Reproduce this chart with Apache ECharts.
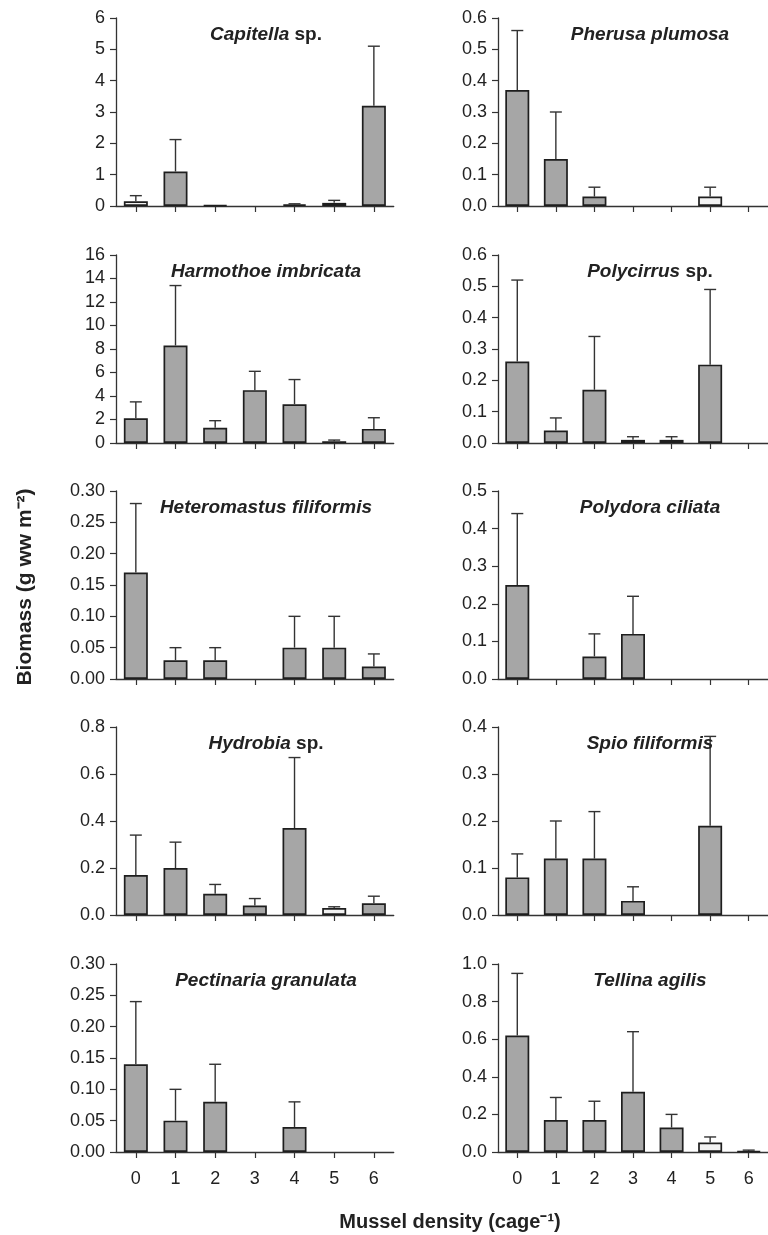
<!DOCTYPE html>
<html><head><meta charset="utf-8">
<script src="https://cdn.jsdelivr.net/npm/echarts@6/dist/echarts.min.js"></script>
<style>html,body{margin:0;padding:0;background:#fff}#c{width:768px;height:1235px}</style>
</head><body><div id="c"></div>
<script>
const categories = ['0','1','2','3','4','5','6'];

const capitellaMean = [0.15, 1.1, 0.03, 0, 0.05, 0.1, 3.2];
const capitellaSE   = [0.18, 1.02, 0, 0, 0.02, 0.08, 1.9];
const pherusaMean = [0.37, 0.15, 0.03, 0, 0, 0.03, 0];
const pherusaSE   = [0.19, 0.15, 0.03, 0, 0, 0.03, 0];
const harmothoeMean = [2.1, 8.3, 1.3, 4.5, 3.3, 0.15, 1.2];
const harmothoeSE   = [1.4, 5.1, 0.6, 1.6, 2.1, 0.1, 0.95];
const polycirrusMean = [0.26, 0.04, 0.17, 0.01, 0.01, 0.25, 0];
const polycirrusSE   = [0.26, 0.04, 0.17, 0.01, 0.01, 0.24, 0];
const heteromastusMean = [0.17, 0.03, 0.03, 0, 0.05, 0.05, 0.02];
const heteromastusSE   = [0.11, 0.02, 0.02, 0, 0.05, 0.05, 0.02];
const polydoraMean = [0.25, 0, 0.06, 0.12, 0, 0, 0];
const polydoraSE   = [0.19, 0, 0.06, 0.10, 0, 0, 0];
const hydrobiaMean = [0.17, 0.20, 0.09, 0.04, 0.37, 0.03, 0.05];
const hydrobiaSE   = [0.17, 0.11, 0.04, 0.03, 0.30, 0.005, 0.03];
const spioMean = [0.08, 0.12, 0.12, 0.03, 0, 0.19, 0];
const spioSE   = [0.05, 0.08, 0.10, 0.03, 0, 0.19, 0];
const pectinariaMean = [0.14, 0.05, 0.08, 0, 0.04, 0, 0];
const pectinariaSE   = [0.10, 0.05, 0.06, 0, 0.04, 0, 0];
const tellinaMean = [0.62, 0.17, 0.17, 0.32, 0.13, 0.05, 0.005];
const tellinaSE   = [0.33, 0.12, 0.10, 0.32, 0.07, 0.03, 0.005];

const panelGenus   = ['Capitella','Pherusa plumosa','Harmothoe imbricata','Polycirrus','Heteromastus filiformis','Polydora ciliata','Hydrobia','Spio filiformis','Pectinaria granulata','Tellina agilis'];
const panelSuffix  = ['sp.','','','sp.','','','sp.','','',''];
const panelMeans   = [capitellaMean, pherusaMean, harmothoeMean, polycirrusMean, heteromastusMean, polydoraMean, hydrobiaMean, spioMean, pectinariaMean, tellinaMean];
const panelSEs     = [capitellaSE, pherusaSE, harmothoeSE, polycirrusSE, heteromastusSE, polydoraSE, hydrobiaSE, spioSE, pectinariaSE, tellinaSE];
const panelYMax    = [6, 0.6, 16, 0.6, 0.30, 0.5, 0.8, 0.4, 0.30, 1.0];
const panelYStep   = [1, 0.1, 2, 0.1, 0.05, 0.1, 0.2, 0.1, 0.05, 0.2];
const panelDecimals= [0, 1, 0, 1, 2, 1, 1, 1, 2, 1];
const panelLightBars = [[0,5], [5], [], [], [], [], [5], [], [], [5]];

const yTitle = 'Biomass (g ww m\u207B\u00B2)';
const xTitle = 'Mussel density (cage\u207B\u00B9)';

const FONT = 'Liberation Sans, Arial, sans-serif';
const rowTops = [18, 255, 491, 727, 964];
const colLefts = [116, 498];
const gridW = 277.7, gridH = 188;
const titleCenters = [261, 645];

const grids = [], xAxes = [], yAxes = [], series = [], titles = [];
panelGenus.forEach((g, i) => {
  const row = Math.floor(i / 2), col = i % 2;
  const top = rowTops[row];
  grids.push({left: colLefts[col], top: top, width: gridW, height: gridH, containLabel: false});
  const isBottom = row === 4;
  xAxes.push({
    type: 'category', gridIndex: i, data: categories, boundaryGap: true,
    axisLine: {show: true, lineStyle: {color: '#333', width: 1.3}},
    axisTick: {show: true, alignWithLabel: true, length: 6, lineStyle: {color: '#333', width: 1.2}},
    axisLabel: {show: isBottom, fontFamily: FONT, fontSize: 18, color: '#222', margin: 18},
    splitLine: {show: false}
  });
  const dec = panelDecimals[i];
  yAxes.push({
    type: 'value', gridIndex: i, min: 0, max: panelYMax[i], interval: panelYStep[i],
    axisLine: {show: true, lineStyle: {color: '#333', width: 1.3}},
    axisTick: {show: true, length: 6, lineStyle: {color: '#333', width: 1.2}},
    axisLabel: {fontFamily: FONT, fontSize: 18, color: '#222', margin: 11, formatter: v => v.toFixed(dec)},
    splitLine: {show: false}
  });
  const light = panelLightBars[i];
  series.push({
    type: 'bar', xAxisIndex: i, yAxisIndex: i, barWidth: 24,
    data: panelMeans[i].map((v, k) => ({
      value: v,
      itemStyle: {color: light.includes(k) ? '#f2f2f2' : '#a6a6a6', borderColor: '#1e1e1e', borderWidth: v > 0 ? 1.7 : 0}
    })),
    silent: true, animation: false
  });
  series.push({
    type: 'custom', xAxisIndex: i, yAxisIndex: i, z: 5, silent: true, animation: false,
    data: panelMeans[i].map((v, k) => [k, v, v + panelSEs[i][k], panelSEs[i][k]]),
    renderItem: (params, api) => {
      if (api.value(3) <= 0) return null;
      const base = api.coord([api.value(0), api.value(1)]);
      const tip = api.coord([api.value(0), api.value(2)]);
      const st = {stroke: '#333', lineWidth: 1.4};
      return {type: 'group', children: [
        {type: 'line', shape: {x1: base[0], y1: base[1], x2: tip[0], y2: tip[1]}, style: st},
        {type: 'line', shape: {x1: tip[0] - 6, y1: tip[1], x2: tip[0] + 6, y2: tip[1]}, style: st}
      ]};
    }
  });
  const suffix = panelSuffix[i];
  titles.push({
    text: suffix ? '{i|' + g + '} {n|' + suffix + '}' : '{i|' + g + '}',
    left: titleCenters[col], top: top + 2, textAlign: 'center',
    textStyle: {
      fontFamily: FONT, fontSize: 19, fontWeight: 'bold', color: '#222',
      rich: {
        i: {fontFamily: FONT, fontSize: 19, fontWeight: 'bold', fontStyle: 'italic', color: '#222'},
        n: {fontFamily: FONT, fontSize: 19, fontWeight: 'bold', color: '#222'}
      }
    }
  });
});

const chart = echarts.init(document.getElementById('c'), null, {renderer: 'canvas'});
chart.setOption({
  backgroundColor: '#fff',
  animation: false,
  title: titles,
  grid: grids, xAxis: xAxes, yAxis: yAxes, series: series,
  graphic: [
    {type: 'text', x: 25, y: 587, rotation: Math.PI / 2,
     style: {text: yTitle, fontFamily: FONT, fontSize: 21, fontWeight: 'bold', fill: '#222', align: 'center', verticalAlign: 'middle'}},
    {type: 'text', x: 450, y: 1222,
     style: {text: xTitle, fontFamily: FONT, fontSize: 20, fontWeight: 'bold', fill: '#222', align: 'center', verticalAlign: 'middle'}}
  ]
});
</script></body></html>
